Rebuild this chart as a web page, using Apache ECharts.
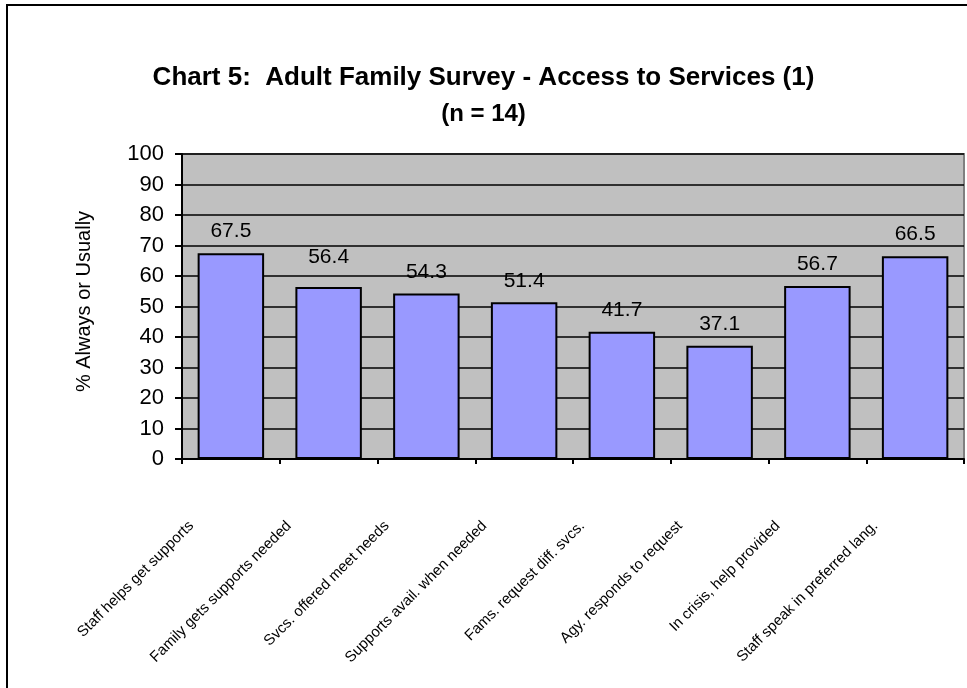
<!DOCTYPE html>
<html>
<head>
<meta charset="utf-8">
<script src="https://cdn.jsdelivr.net/npm/echarts@6/dist/echarts.min.js"></script>
<style>
  html, body { margin: 0; padding: 0; background: #fff; }
  #chart { width: 967px; height: 688px; }
</style>
</head>
<body>
<div id="chart"></div>
<script>
// Survey items (category axis)
const categories = [
  'Staff helps get supports',
  'Family gets supports needed',
  'Svcs. offered meet needs',
  'Supports avail. when needed',
  'Fams. request diff. svcs.',
  'Agy. responds to request',
  'In crisis, help provided',
  'Staff speak in preferred lang.'
];

// Percent answering "Always" or "Usually"
const percentValues = [67.5, 56.4, 54.3, 51.4, 41.7, 37.1, 56.7, 66.5];

// Value-axis ticks
const yMin = 0;
const yMax = 100;
const yStep = 10;

const FONT = 'Liberation Sans, Arial, Helvetica, sans-serif';

const chart = echarts.init(document.getElementById('chart'), null, { renderer: 'canvas' });

// the second bar's value label sits a little higher than the rest
const barData = percentValues.map((v, i) =>
  i === 1 ? { value: v, label: { offset: [0, -8] } } : v
);

chart.setOption({
  animation: false,
  backgroundColor: '#ffffff',
  title: [
    {
      text: 'Chart 5:  Adult Family Survey - Access to Services (1)',
      left: 'center',
      top: 60,
      textStyle: { fontFamily: FONT, fontWeight: 'bold', fontSize: 26, color: '#000' }
    },
    {
      text: '(n = 14)',
      left: 'center',
      top: 97,
      textStyle: { fontFamily: FONT, fontWeight: 'bold', fontSize: 24, color: '#000' }
    }
  ],
  graphic: [
    {
      type: 'rect',
      shape: { x: 7, y: 5, width: 990, height: 700 },
      style: { fill: 'none', stroke: '#000', lineWidth: 2 },
      silent: true,
      z: 100
    }
  ],
  grid: {
    left: 182,
    right: 3,
    top: 154,
    bottom: 229,
    show: true,
    backgroundColor: '#c0c0c0',
    borderColor: '#808080',
    borderWidth: 2
  },
  xAxis: {
    type: 'category',
    data: categories,
    axisLine: { show: true, lineStyle: { color: '#000', width: 2 } },
    axisTick: { show: true, alignWithLabel: false, length: 5, lineStyle: { color: '#000', width: 2 } },
    axisLabel: {
      interval: 0,
      rotate: 45,
      margin: 25,
      padding: [0, 56, 0, 0],
      fontFamily: FONT,
      fontSize: 15,
      color: '#000'
    },
    splitLine: { show: false }
  },
  yAxis: {
    type: 'value',
    min: yMin,
    max: yMax,
    interval: yStep,
    name: '% Always or Usually',
    nameLocation: 'middle',
    nameGap: 88,
    nameTextStyle: { fontFamily: FONT, fontSize: 20, color: '#000', padding: [0, 0, 0, 10] },
    axisLine: { show: true, lineStyle: { color: '#000', width: 2 } },
    axisTick: { show: true, length: 7, lineStyle: { color: '#000', width: 2 } },
    axisLabel: { margin: 18, fontFamily: FONT, fontSize: 22, color: '#000' },
    splitLine: { show: true, lineStyle: { color: '#000', width: 1.5 } }
  },
  series: [
    {
      type: 'bar',
      data: barData,
      barCategoryGap: '32%',
      itemStyle: { color: '#9999ff', borderColor: '#000', borderWidth: 2 },
      label: {
        show: true,
        position: 'top',
        distance: 11,
        fontFamily: FONT,
        fontSize: 21,
        color: '#000',
        formatter: p => p.value.toFixed(1)
      }
    }
  ]
});
</script>
</body>
</html>
